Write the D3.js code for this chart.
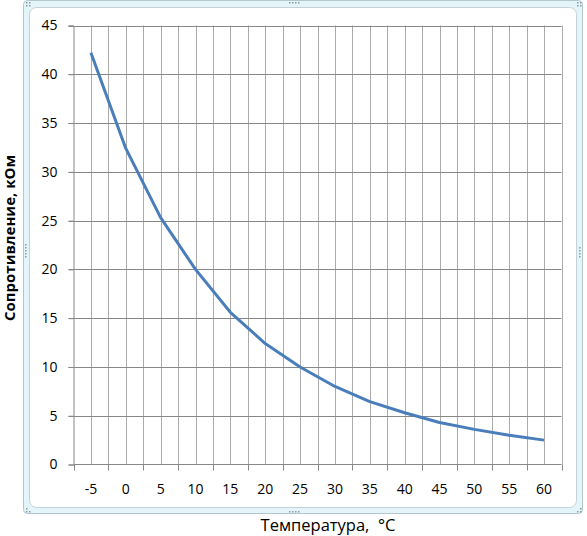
<!DOCTYPE html>
<html><head><meta charset="utf-8">
<script src="https://cdn.jsdelivr.net/npm/d3@7"></script>
<style>html,body{margin:0;padding:0;background:#fff;}svg{display:block;}</style>
</head><body>
<script>
const categories = [-5, 0, 5, 10, 15, 20, 25, 30, 35, 40, 45, 50, 55, 60];
const resistance = [42.2, 32.4, 25.3, 20.0, 15.6, 12.4, 10.0, 8.0, 6.45, 5.3, 4.3, 3.6, 3.0, 2.5];
const yTicks = [0, 5, 10, 15, 20, 25, 30, 35, 40, 45];
const yTitle = "Сопротивление, кОм";
const xTitle = "Температура,  °C";

(function(){
const W = 587, H = 536;
const svg = d3.select("body").append("svg").attr("width", W).attr("height", H);

// chart frame (selection border)
svg.append("rect").attr("x", 23.5).attr("y", 0.5).attr("width", 559).attr("height", 513)
  .attr("rx", 4).attr("fill", "#e4f5fa").attr("stroke", "#b3c7cf");
svg.append("rect").attr("x", 29.5).attr("y", 7.5).attr("width", 547).attr("height", 500)
  .attr("rx", 7).attr("fill", "#fff").attr("stroke", "#c3d2d8");
function dots(pts){ pts.forEach(p => svg.append("rect").attr("x", p[0]).attr("y", p[1]).attr("width", 1.5).attr("height", 1.5).attr("fill", "#8a9aa2")); }
dots([[26,2],[29,2],[26,5],[29,5]]);
dots([[577,2],[580,2],[580,5],[577,5]]);
dots([[26,508],[26,511],[29,511]]);
dots([[577,511],[580,511],[580,508]]);
dots([[289,2],[292,2],[295,2],[298,2]]);
dots([[289,511],[292,511],[295,511],[298,511]]);
dots([[25,244],[25,247],[25,250],[25,253],[25,256]]);
dots([[579,247],[579,250],[579,253],[579,256]]);

const pLeft = 73.5, pRight = 561.5, pTop = 25.5, pBottom = 464.5;
const x = d3.scaleBand().domain(categories).range([pLeft, pRight]).padding(0);
const y = d3.scaleLinear().domain([0, 45]).range([pBottom, pTop]);
const bw = x.bandwidth();

const g = svg.append("g");
const vLines = [];
categories.forEach(c => { vLines.push(x(c)); vLines.push(x(c) + bw / 2); });
vLines.push(pRight);
g.selectAll("line.v").data(vLines.slice(1)).enter().append("line")
  .attr("x1", d => Math.round(d) + 0.5).attr("x2", d => Math.round(d) + 0.5)
  .attr("y1", pTop).attr("y2", pBottom).attr("stroke", "#ababab").attr("stroke-width", 1);
g.selectAll("line.h").data(yTicks.slice(1)).enter().append("line")
  .attr("x1", pLeft - 5).attr("x2", pRight)
  .attr("y1", d => Math.round(y(d)) + 0.5).attr("y2", d => Math.round(y(d)) + 0.5)
  .attr("stroke", "#878787").attr("stroke-width", 1);

const yAxis = d3.axisLeft(y).tickValues(yTicks).tickSize(5).tickPadding(11).tickFormat(d3.format("d"));
const ya = svg.append("g").attr("transform", `translate(${pLeft},0)`).call(yAxis);
ya.select(".domain").attr("stroke", "#878787");
ya.selectAll(".tick line").attr("stroke", "#878787");
ya.selectAll(".tick text").attr("font-family", "'Open Sans', sans-serif").attr("font-size", 14).attr("fill", "#000");

const xa = svg.append("g").attr("transform", `translate(0,${pBottom})`);
xa.append("line").attr("x1", pLeft).attr("x2", pRight).attr("y1", 0).attr("y2", 0).attr("stroke", "#878787");
const tickPos = categories.map(c => x(c)).concat([pRight]);
xa.selectAll("line.t").data(tickPos).enter().append("line")
  .attr("x1", d => Math.round(d) + 0.5).attr("x2", d => Math.round(d) + 0.5)
  .attr("y1", 0).attr("y2", 6).attr("stroke", "#878787");
xa.selectAll("text.c").data(categories).enter().append("text")
  .attr("x", d => x(d) + bw / 2).attr("y", 29).attr("text-anchor", "middle")
  .attr("font-family", "'Open Sans', sans-serif").attr("font-size", 14).attr("fill", "#000")
  .text(d => d);

const line = d3.line().x((d, i) => x(categories[i]) + bw / 2).y(d => y(d));
svg.append("path").datum(resistance).attr("d", line).attr("fill", "none")
  .attr("stroke", "#4a7ebb").attr("stroke-width", 3).attr("stroke-linejoin", "round").attr("stroke-linecap", "butt");

svg.append("text").attr("transform", "translate(15,238) rotate(-90)").attr("text-anchor", "middle")
  .attr("font-family", "'Open Sans', sans-serif").attr("font-weight", "bold").attr("font-size", 15)
  .attr("fill", "#000").text(yTitle);
svg.append("text").attr("x", 328).attr("y", 531).attr("text-anchor", "middle")
  .attr("font-family", "'Open Sans', sans-serif").attr("font-size", 16.5).attr("fill", "#000")
  .style("white-space", "pre").text(xTitle);
})();
</script>
</body></html>
